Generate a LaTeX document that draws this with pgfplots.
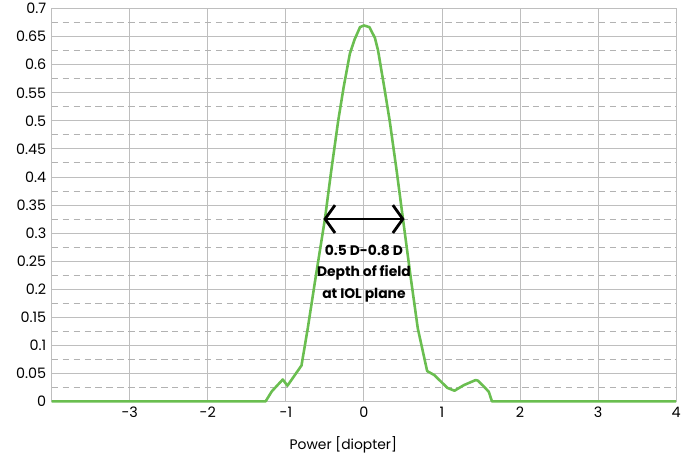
\documentclass[border=0pt]{standalone}
\usepackage{pgfplots}
\pgfplotsset{compat=1.18}
\usepackage{fontspec}
\setmainfont{Poppins}
\usetikzlibrary{arrows.meta,calc}
\definecolor{curvegreen}{RGB}{106,190,80}
\definecolor{gridsolid}{RGB}{190,190,190}
\definecolor{griddash}{RGB}{178,178,178}
\begin{document}
\begin{tikzpicture}
\begin{axis}[
  name=ax,
  scale only axis,
  width=628bp, height=395bp,
  xmin=-4, xmax=4, ymin=0, ymax=0.7,
  xtick={-3,-2,-1,0,1,2,3,4},
  ytick={0,0.05,0.1,0.15,0.2,0.25,0.3,0.35,0.4,0.45,0.5,0.55,0.6,0.65,0.7},
  minor y tick num=1,
  major tick length=0pt, minor tick length=0pt,
  grid=both,
  major grid style={gridsolid, line width=0.9bp},
  minor grid style={griddash, line width=0.9bp, dash pattern=on 6.5bp off 4.5bp},
  axis line style={gridsolid, line width=0.9bp},
  tick label style={font=\fontsize{14.5}{17}\selectfont, text=black},
  /pgf/number format/assume math mode=true,
  /pgf/number format/fixed,
  /pgf/number format/precision=2,
  yticklabel style={xshift=-2bp},
  xticklabel style={yshift=-2bp},
  xlabel={Power [diopter]},
  xlabel style={at={(axis description cs:0.467,0)}, anchor=center, yshift=-44bp, font=\fontsize{14}{16}\selectfont},
  clip=false,
]
\addplot[curvegreen, line width=2.6bp, line join=round] coordinates {
(-4,0) (-1.26,0) (-1.18,0.018) (-1.04,0.039) (-0.98,0.028) (-0.80,0.064)
(-0.72,0.13) (-0.62,0.22) (-0.50,0.325) (-0.42,0.41) (-0.33,0.50)
(-0.26,0.56) (-0.18,0.62) (-0.12,0.645) (-0.05,0.667) (0.0,0.67)
(0.07,0.667) (0.14,0.648) (0.18,0.626) (0.26,0.56) (0.33,0.50)
(0.42,0.41) (0.50,0.325) (0.60,0.22) (0.69,0.13) (0.81,0.054)
(0.90,0.047) (1.07,0.024) (1.16,0.019) (1.28,0.029) (1.43,0.038)
(1.46,0.037) (1.54,0.026) (1.60,0.017) (1.64,0) (4,0)
};
\draw[black, line width=2.8bp, {Straight Barb[length=10bp,width=28bp]}-{Straight Barb[length=10bp,width=28bp]}]
  (axis cs:-0.52,0.325) -- (axis cs:0.52,0.325);
\node[align=center, font=\fontsize{14}{21.5}\selectfont\bfseries] at (axis cs:0,0.228)
  {0.5 D-0.8 D\\Depth of field\\at IOL plane};
\end{axis}
\path ($(ax.south west)+(-52bp,-55bp)$) rectangle ($(ax.north east)+(4bp,8bp)$);
\end{tikzpicture}
\end{document}
